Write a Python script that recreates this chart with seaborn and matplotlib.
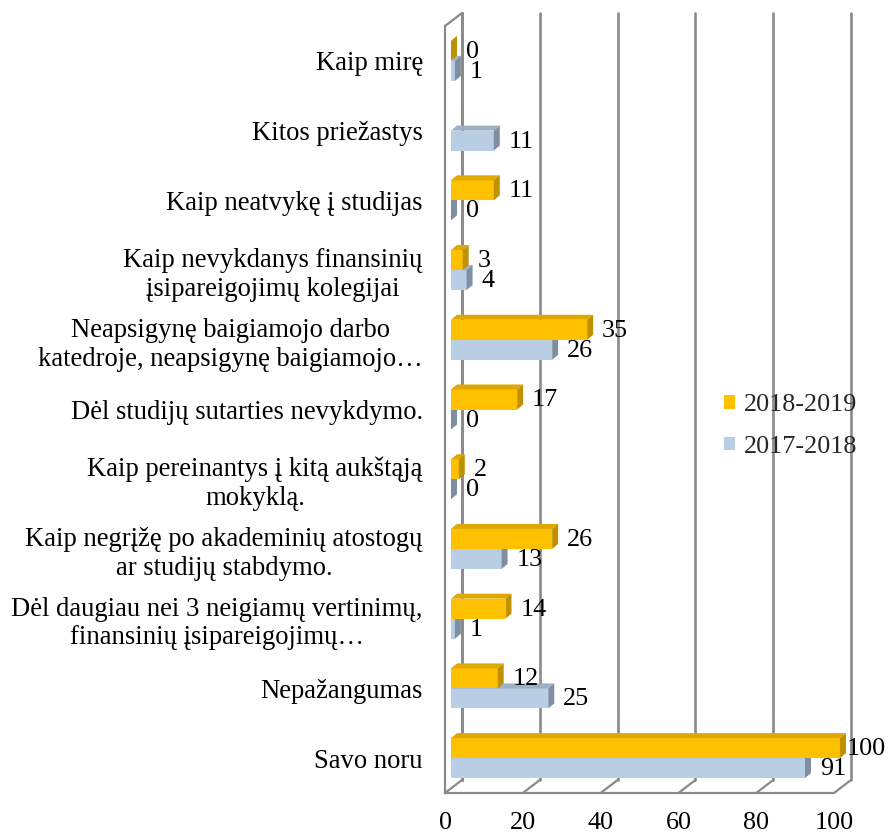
import numpy as np
import pandas as pd
import matplotlib
matplotlib.use("Agg")
import matplotlib.pyplot as plt
import seaborn as sns
from matplotlib.transforms import ScaledTranslation
from matplotlib.patches import Polygon, Patch
from matplotlib.lines import Line2D

# ---------------- data ----------------
categories = [
    "Kaip mirę",
    "Kitos priežastys",
    "Kaip neatvykę į studijas",
    "Kaip nevykdanys finansinių\nįsipareigojimų kolegijai",
    "Neapsigynę baigiamojo darbo\nkatedroje, neapsigynę baigiamojo…",
    "Dėl studijų sutarties nevykdymo.",
    "Kaip pereinantys į kitą aukštąją\nmokyklą.",
    "Kaip negrįžę po akademinių atostogų\nar studijų stabdymo.",
    "Dėl daugiau nei 3 neigiamų vertinimų,\nfinansinių įsipareigojimų…",
    "Nepažangumas",
    "Savo noru",
]
values_2018_2019 = [0, np.nan, 11, 3, 35, 17, 2, 26, 14, 12, 100]
values_2017_2018 = [1, 11, 0, 4, 26, 0, 0, 13, 1, 25, 91]
series_names = ["2018-2019", "2017-2018"]
x_ticks = [0, 20, 40, 60, 80, 100]

# ---------------- style ----------------
front_colors = {"2018-2019": "#FFC000", "2017-2018": "#B9CDE5"}
side_colors = {"2018-2019": "#BF9000", "2017-2018": "#7F8FA1"}
top_colors = {"2018-2019": "#DFA800", "2017-2018": "#9DB0C6"}
GRAY = "#8A8A8A"
FS = 18.8

sns.set_theme(style="white")
plt.rcParams["font.family"] = ["Liberation Serif", "DejaVu Serif"]

W, H = 891, 835
DPI = 100
fig = plt.figure(figsize=(W / DPI, H / DPI), dpi=DPI)
fig.patch.set_facecolor("white")


def fx(px):
    return px / W


def fy(py):
    return 1 - py / H


# depth geometry (pixels)
WALL_DX, WALL_DY = 17, 13
BAR_SHIFT = 6
BAR_DX, BAR_DY = 6, 5

# front plane axes
F_L, F_R, F_T, F_B = 445, 834, 26, 793
front_rect = [fx(F_L), fy(F_B), (F_R - F_L) / W, (F_B - F_T) / H]
# back wall axes
back = fig.add_axes([fx(F_L + WALL_DX), fy(F_B - WALL_DY), (F_R - F_L) / W, (F_B - F_T) / H])
back.set_facecolor("none")
back.set_xlim(0, 100)
back.set_ylim(0, 1)
back.set_xticks(x_ticks)
back.set_yticks([])
back.tick_params(axis="x", length=0, labelbottom=False)
back.grid(axis="x", color=GRAY, linewidth=1.9)
for gl in back.get_xgridlines():
    gl.set_clip_on(False)
for s in ["top", "right", "bottom"]:
    back.spines[s].set_visible(False)
back.spines["left"].set_color(GRAY)
back.spines["left"].set_linewidth(1.9)

front = fig.add_axes(front_rect)
front.set_facecolor("none")

rows = []
for c, a, b in zip(categories, values_2018_2019, values_2017_2018):
    rows.append({"Kategorija": c, "Metai": series_names[0], "Reikšmė": a})
    rows.append({"Kategorija": c, "Metai": series_names[1], "Reikšmė": b})
df = pd.DataFrame(rows).dropna()

sns.barplot(
    data=df, y="Kategorija", x="Reikšmė", hue="Metai",
    order=categories, hue_order=series_names,
    palette=[front_colors[s] for s in series_names],
    saturation=1, width=0.574, orient="h", ax=front,
    linewidth=0, edgecolor="none", legend=False,
)

front.set_xlim(0, 100)
front.set_ylim(len(categories) - 0.5, -0.5)
front.set_xlabel("")
front.set_ylabel("")
front.set_xticks(x_ticks)
front.set_xticklabels([str(t) for t in x_ticks], fontsize=FS)
front.set_yticks(range(len(categories)))
front.set_yticklabels(categories, fontsize=19.2)
for t in front.get_yticklabels():
    t.set_multialignment("center")
front.set_yticks(np.arange(-0.5, len(categories), 1.0), minor=True)
front.tick_params(axis="y", which="major", length=0, pad=16)
front.tick_params(axis="y", which="minor", length=3.8, width=1.5, color=GRAY, direction="out")
front.tick_params(axis="x", which="major", length=3.8, width=1.5, color=GRAY, direction="out", pad=10)
front.tick_params(which="major", axis="both", labelcolor="black")
for s in ["top", "right"]:
    front.spines[s].set_visible(False)
for s in ["left", "bottom"]:
    front.spines[s].set_color(GRAY)
    front.spines[s].set_linewidth(1.6)
front.grid(False)

fig.canvas.draw()
to_fig = fig.transFigure.inverted()

# walls: floor diagonals and top-left edge
for v in x_ticks:
    p0 = front.transData.transform((v, len(categories) - 0.5))
    p1 = p0 + np.array([WALL_DX, WALL_DY])
    q0, q1 = to_fig.transform(p0), to_fig.transform(p1)
    fig.add_artist(Line2D([q0[0], q1[0]], [q0[1], q1[1]], color=GRAY, lw=1.6, transform=fig.transFigure))
p0 = front.transData.transform((0, -0.5))
p1 = p0 + np.array([WALL_DX, WALL_DY])
q0, q1 = to_fig.transform(p0), to_fig.transform(p1)
fig.add_artist(Line2D([q0[0], q1[0]], [q0[1], q1[1]], color=GRAY, lw=1.6, transform=fig.transFigure))

# bars: shift, extrude, label
shift = ScaledTranslation(BAR_SHIFT / DPI, 0, fig.dpi_scale_trans)
bar_patches = [p for p in front.patches if isinstance(p, matplotlib.patches.Rectangle)]
labels_to_fix = []
for p in bar_patches:
    fc = matplotlib.colors.to_hex(p.get_facecolor())
    ser = [s for s in series_names if matplotlib.colors.to_hex(front_colors[s]) == fc]
    if not ser:
        continue
    ser = ser[0]
    z = 3 if ser == series_names[0] else 2
    p.set_transform(front.transData + shift)
    p.set_clip_on(False)
    p.set_zorder(z)
    x, y, w, h = p.get_x(), p.get_y(), p.get_width(), p.get_height()
    if np.isnan(w):
        continue
    a = front.transData.transform((x, y)) + [BAR_SHIFT, 0]
    b = front.transData.transform((x + w, y + h)) + [BAR_SHIFT, 0]
    x0, x1 = min(a[0], b[0]), max(a[0], b[0])
    yb, yt = min(a[1], b[1]), max(a[1], b[1])
    right = [(x1, yb), (x1 + BAR_DX, yb + BAR_DY), (x1 + BAR_DX, yt + BAR_DY), (x1, yt)]
    top = [(x0, yt), (x0 + BAR_DX, yt + BAR_DY), (x1 + BAR_DX, yt + BAR_DY), (x1, yt)]
    for verts, col in [(top, top_colors[ser]), (right, side_colors[ser])]:
        poly = Polygon(to_fig.transform(np.array(verts)), closed=True, facecolor=col,
                       edgecolor="none", transform=fig.transFigure, clip_on=False, zorder=z + 0.1)
        front.add_patch(poly)
    lx, ly = to_fig.transform((x1 + BAR_DX + 9, (yb + yt) / 2 - 1))
    txt = front.text(lx, ly, f"{w:g}", transform=fig.transFigure, ha="left", va="center",
                     fontsize=FS, color="black", clip_on=False, zorder=5)
    labels_to_fix.append(txt)

fig.canvas.draw()
renderer = fig.canvas.get_renderer()
for txt in labels_to_fix:
    bb = txt.get_window_extent(renderer)
    if bb.x1 > W - 5:
        dx = bb.x1 - (W - 5)
        px, py = fig.transFigure.transform(txt.get_position())
        txt.set_position(to_fig.transform((px - dx, py)))

handles = [Patch(facecolor=front_colors[s], edgecolor="none") for s in series_names]
fig.legend(handles, series_names, loc="center left", bbox_to_anchor=(fx(724), fy(426)),
           frameon=False, fontsize=FS, handlelength=0.42, handleheight=0.42,
           handletextpad=0.35, labelspacing=0.75, borderaxespad=0, borderpad=0)

fig.savefig("out.png", dpi=DPI)
